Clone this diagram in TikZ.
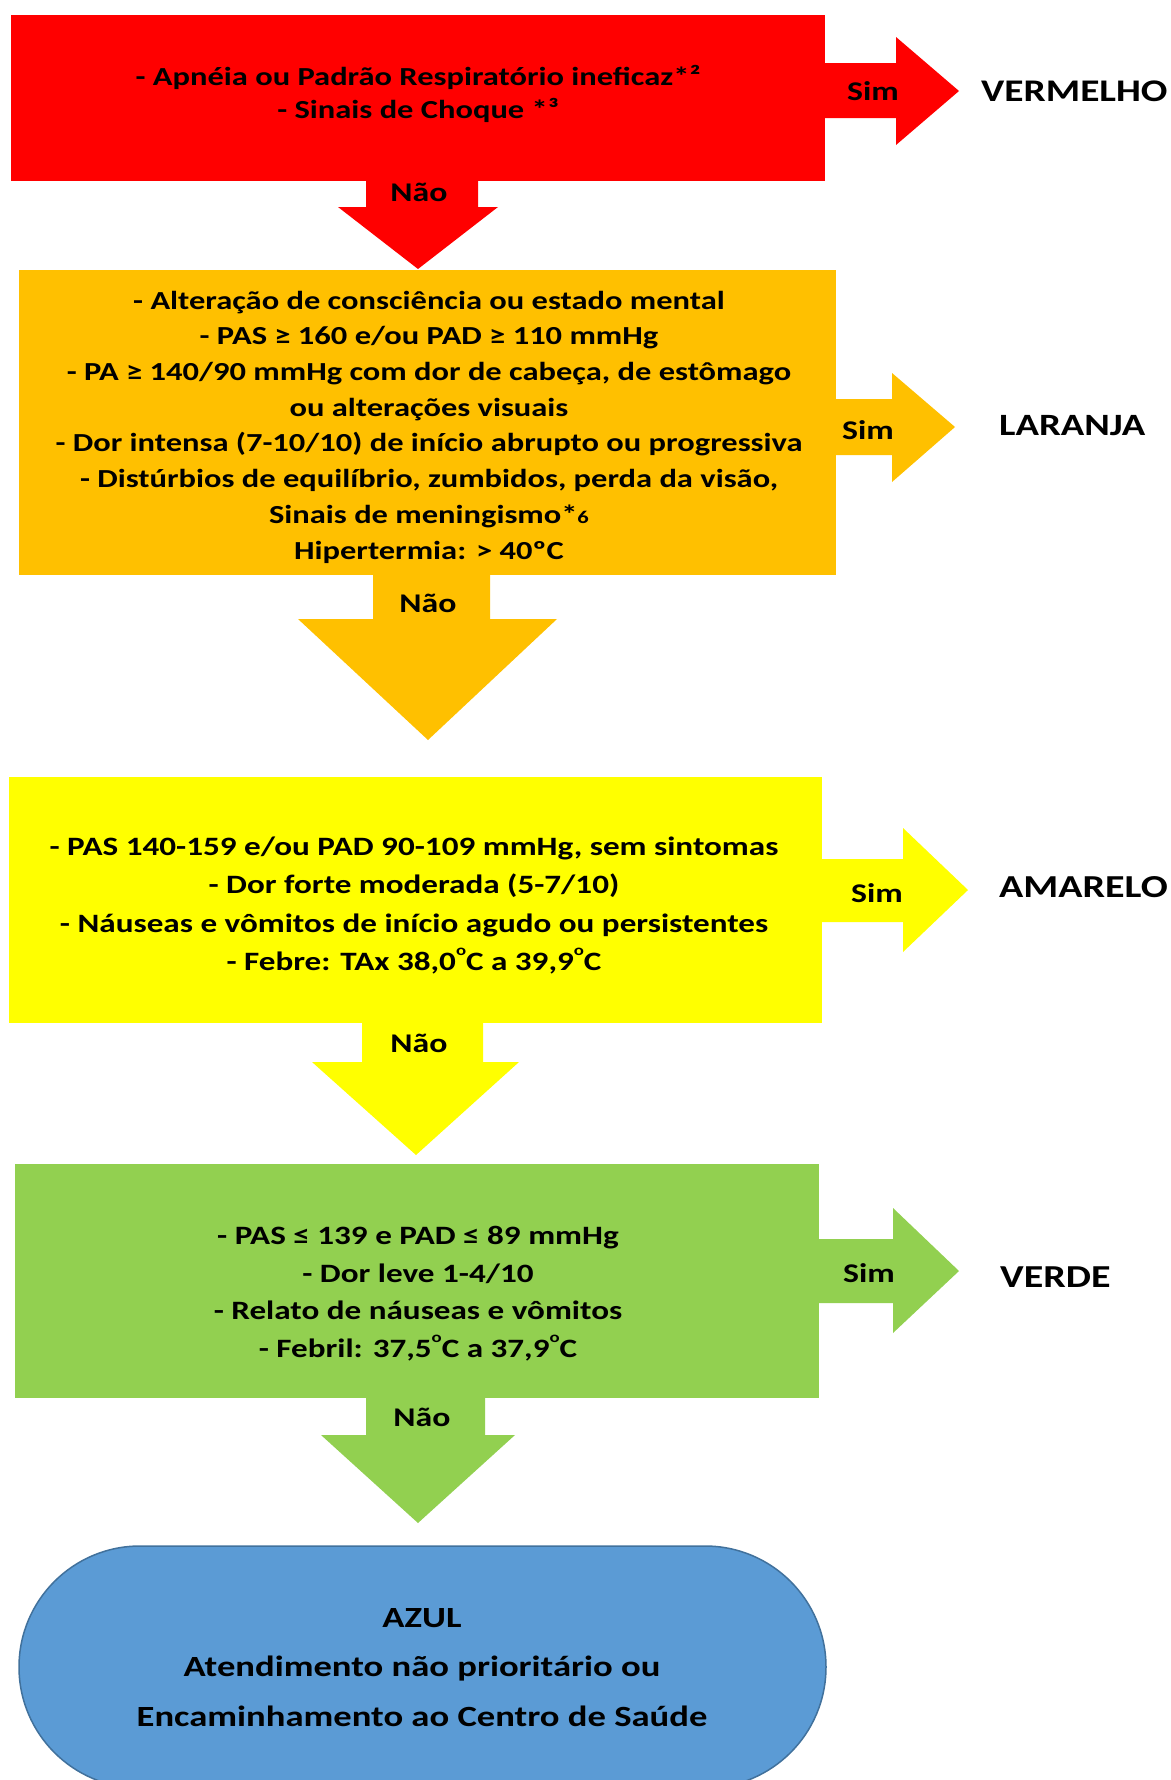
\documentclass[tikz,border=0pt]{standalone}
\usepackage{fontspec}
\setmainfont{Carlito}[FakeStretch=1.25]
\usetikzlibrary{shapes.misc}

\definecolor{cRed}{HTML}{FF0000}
\definecolor{cOrange}{HTML}{FFC000}
\definecolor{cYellow}{HTML}{FFFF00}
\definecolor{cGreen}{HTML}{92D050}
\definecolor{cBlue}{HTML}{5B9BD5}
\definecolor{cBlueLine}{HTML}{41719C}

\newcommand{\degsup}{\raisebox{0.55em}{\fontsize{15}{15}\selectfont o}}

\begin{document}
\begin{tikzpicture}[x=1pt,y=-1pt,
  panel/.style={rectangle, draw=none, inner sep=0pt, outer sep=0pt, anchor=north west},
  body/.style 2 args={font=\fontsize{#1}{#2}\selectfont\bfseries, align=center, inner sep=0pt},
  tag/.style={font=\fontsize{27}{27}\selectfont\bfseries, inner sep=0pt, anchor=base},
  verdict/.style={font=\fontsize{#1}{#1}\selectfont\bfseries, inner sep=0pt, anchor=base west},
]
\useasboundingbox (0,0) rectangle (1170,1780);

% ---------- level boxes ----------
\node[panel, fill=cRed,    minimum width=814pt, minimum height=166pt] (redbox)    at (11,15)   {};
\node[panel, fill=cOrange, minimum width=817pt, minimum height=305pt] (orangebox) at (19,270)  {};
\node[panel, fill=cYellow, minimum width=813pt, minimum height=246pt] (yellowbox) at (9,777)   {};
\node[panel, fill=cGreen,  minimum width=804pt, minimum height=234pt] (greenbox)  at (15,1164) {};
\node[rounded rectangle, draw=cBlueLine, line width=1.5pt, fill=cBlue, inner sep=0pt,
      minimum width=807pt, minimum height=242pt] (bluebox) at (422.5,1667) {};

% ---------- "Sim" block arrows (to the right) ----------
\fill[cRed]    (824,63)   -- (896,63)   -- (896,37)   -- (959,91)   -- (896,145)  -- (896,118)  -- (824,118)  -- cycle;
\fill[cOrange] (835,399)  -- (892,399)  -- (892,373)  -- (955,427)  -- (892,482)  -- (892,455)  -- (835,455)  -- cycle;
\fill[cYellow] (821,859)  -- (903,859)  -- (903,828)  -- (968,890)  -- (903,952)  -- (903,922)  -- (821,922)  -- cycle;
\fill[cGreen]  (818,1239) -- (893,1239) -- (893,1208) -- (959,1271) -- (893,1333) -- (893,1303) -- (818,1303) -- cycle;

% ---------- "Não" block arrows (downwards) ----------
\fill[cRed]    (366,180)  -- (366,207)  -- (338,207)  -- (418,269)  -- (498,207)  -- (478,207)  -- (478,180)  -- cycle;
\fill[cOrange] (373,574)  -- (373,619)  -- (298,619)  -- (428,740)  -- (557,619)  -- (490,619)  -- (490,574)  -- cycle;
\fill[cYellow] (362,1022) -- (362,1062) -- (312,1062) -- (416,1155) -- (519,1062) -- (483,1062) -- (483,1022) -- cycle;
\fill[cGreen]  (366,1397) -- (366,1435) -- (321,1435) -- (418,1523) -- (515,1435) -- (485,1435) -- (485,1397) -- cycle;

% ---------- box texts ----------
\node[body={26}{33}] (redtxt) at (418,93.5)
  {- Apnéia ou Padrão Respiratório ineficaz*²\\- Sinais de Choque *³};
\node[body={26}{35.7}] (orangetxt) at (429,427)
  {- Alteração de consciência ou estado mental\\
   - PAS ≥ 160 e/ou PAD ≥ 110 mmHg\\
   - PA ≥ 140/90 mmHg com dor de cabeça, de estômago\\
   ou alterações visuais\\
   - Dor intensa (7-10/10) de início abrupto ou progressiva\\
   - Distúrbios de equilíbrio, zumbidos, perda da visão,\\
   Sinais de meningismo*{\fontsize{18}{18}\selectfont 6}\\
   Hipertermia: > 40ºC};
\node[body={26.5}{38.3}] (yellowtxt) at (414,905.5)
  {- PAS 140-159 e/ou PAD 90-109 mmHg, sem sintomas\\
   - Dor forte moderada (5-7/10)\\
   - Náuseas e vômitos de início agudo ou persistentes\\
   - Febre: TAx 38,0\degsup C a 39,9\degsup C};
\node[body={26.5}{37.7}] (greentxt) at (418,1293.5)
  {- PAS ≤ 139 e PAD ≤ 89 mmHg\\
   - Dor leve 1-4/10\\
   - Relato de náuseas e vômitos\\
   - Febril: 37,5\degsup C a 37,9\degsup C};
\node[body={29.3}{49.5}] (bluetxt) at (422,1667.5)
  {AZUL\\Atendimento não prioritário ou\\Encaminhamento ao Centro de Saúde};

% ---------- arrow labels ----------
\node[tag] (simR) at (873,100)  {Sim};
\node[tag] (simO) at (868,439)  {Sim};
\node[tag] (simY) at (877,902)  {Sim};
\node[tag] (simG) at (869,1282) {Sim};
\node[tag] (naoR) at (419,201)  {Não};
\node[tag] (naoO) at (428,612)  {Não};
\node[tag] (naoY) at (419,1052) {Não};
\node[tag] (naoG) at (422,1426) {Não};

% ---------- outcome labels ----------
\node[verdict=31.5] (vermelho) at (981,101)  {VERMELHO};
\node[verdict=31]   (laranja)  at (999,435)  {LARANJA};
\node[verdict=32]   (amarelo)  at (999,897)  {AMARELO};
\node[verdict=32]   (verde)    at (1000,1287) {VERDE};
\end{tikzpicture}
\end{document}
